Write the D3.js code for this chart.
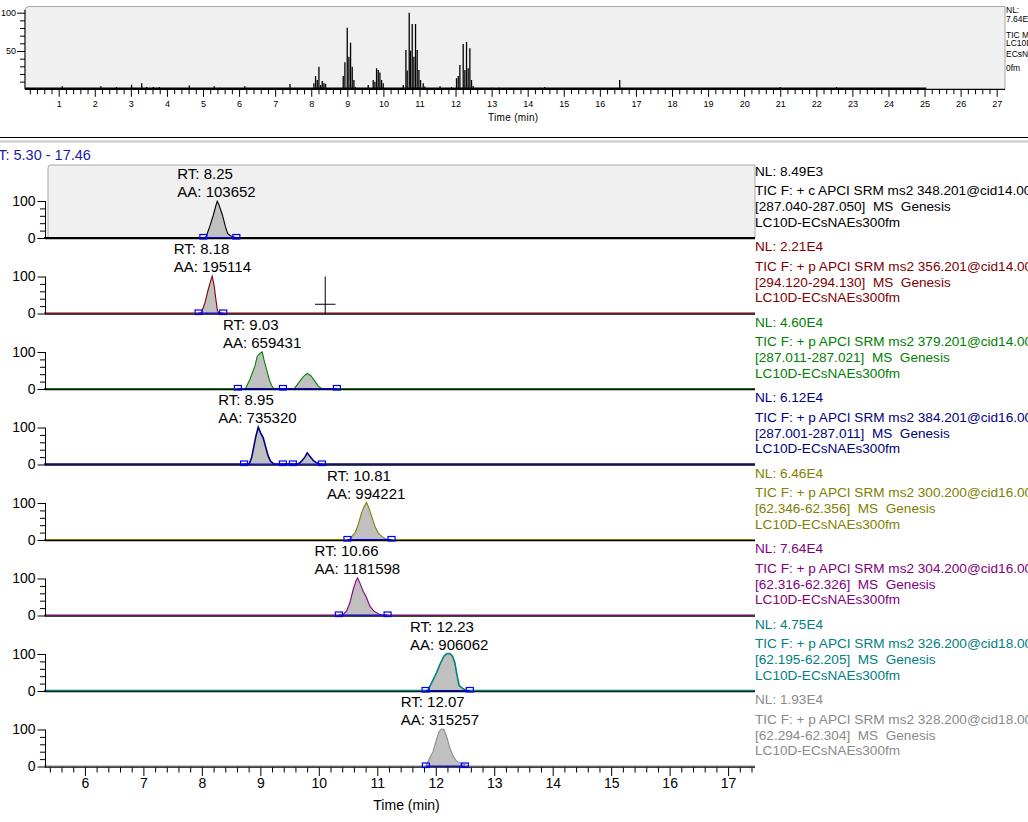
<!DOCTYPE html>
<html><head><meta charset="utf-8">
<script src="https://cdn.jsdelivr.net/npm/d3@7"></script>
<style>
body{margin:0;background:#fff;overflow:hidden}
svg{display:block;font-family:Arial,"Liberation Sans",sans-serif}
text{white-space:pre}
</style>
</head><body>
<svg id="c" width="1028" height="822"></svg>
<script>
// ---------- DATA ----------
// Top TIC overview (time in min, relative abundance %)
const ticSpikeTimes = [0.16,1.1,2.17,2.6,3.02,3.3,3.44,3.62,3.79,4.62,5.31,5.47,6.16,7.41,
  8.074,8.12,8.167,8.213,8.259,8.305,8.351,8.397,
  8.887,8.933,8.998,9.044,9.09,9.136,9.183,9.229,
  9.58,9.718,9.765,9.811,9.857,9.903,9.949,9.995,
  10.55,10.624,10.66,10.716,10.753,10.799,10.845,10.891,10.937,10.984,11.03,11.104,11.15,
  11.57,11.89,
  12.027,12.074,12.12,12.212,12.258,12.304,12.35,12.397,12.443,12.489,
  13.0,13.21,14.34,14.47,16.55,21.0,22.56];
const ticSpikeValues = [2,4,4,3,6,8,3,3,3,5,4,2,4,7,
  7.8,17.4,12.2,29.6,5.7,10.9,7.8,7,
  17.4,35.2,80.5,42.6,60.9,29.6,12.2,2.6,
  5.7,12.2,10,27.4,25.2,21.8,12.2,7.8,
  5.7,51.3,24.4,100,50.5,85.3,42.6,85.3,51.3,25.2,12.2,7.8,3.5,
  4,3,
  14.4,17.4,31.8,59.2,25.2,61.8,27.4,53.5,12.2,4.3,
  2,2,2,3,12,3,3];
const ticTraceRange = [0.07, 25.05];
const ticXTicks = [1,2,3,4,5,6,7,8,9,10,11,12,13,14,15,16,17,18,19,20,21,22,23,24,25,26,27];
const ticYTicks = [50,100];
const ticInfo = ["NL:","7.64E4","TIC MS","LC10D-","ECsNAEs30","0fm"];

// Main SRM chromatograms
const rtRange = [5.30, 17.46];
const mainXTicks = [6,7,8,9,10,11,12,13,14,15,16,17];
const panelYTicks = [0,100];
const panelColors = ["#000000","#800000","#008000","#000080","#808000","#800080","#008080","#8a8a8a"];
const peakRT = [8.25, 8.18, 9.03, 8.95, 10.81, 10.66, 12.23, 12.07];
const peakAA = [103652, 195114, 659431, 735320, 994221, 1181598, 906062, 315257];
const panelNL = ["8.49E3","2.21E4","4.60E4","6.12E4","6.46E4","7.64E4","4.75E4","1.93E4"];
const panelScan = [
  "TIC F: + c APCI SRM ms2 348.201@cid14.00",
  "TIC F: + p APCI SRM ms2 356.201@cid14.00",
  "TIC F: + p APCI SRM ms2 379.201@cid14.00",
  "TIC F: + p APCI SRM ms2 384.201@cid16.00",
  "TIC F: + p APCI SRM ms2 300.200@cid16.00",
  "TIC F: + p APCI SRM ms2 304.200@cid16.00",
  "TIC F: + p APCI SRM ms2 326.200@cid18.00",
  "TIC F: + p APCI SRM ms2 328.200@cid18.00"];
const panelMass = [
  "[287.040-287.050]  MS  Genesis",
  "[294.120-294.130]  MS  Genesis",
  "[287.011-287.021]  MS  Genesis",
  "[287.001-287.011]  MS  Genesis",
  "[62.346-62.356]  MS  Genesis",
  "[62.316-62.326]  MS  Genesis",
  "[62.195-62.205]  MS  Genesis",
  "[62.294-62.304]  MS  Genesis"];
const fileName = "LC10D-ECsNAEs300fm";

// Peak profiles per panel: [time, %]
const trace1 = [[[8.06,0],[8.080,5.4],[8.137,30.6],[8.194,59.5],[8.240,86.5],[8.263,98.2],[8.297,86.5],[8.354,59.5],[8.400,30.6],[8.440,10.8],[8.479,5.4],[8.536,1.8],[8.57,0]]];
const trace2 = [[[7.98,0],[7.995,2.3],[8.052,27.5],[8.109,63.5],[8.149,86],[8.177,99.5],[8.211,72.5],[8.240,36.5],[8.263,9.5],[8.280,2.3],[8.29,0]]];
const trace3 = [[[8.74,0],[8.753,1.8],[8.821,24.3],[8.907,60.4],[8.947,87.4],[8.992,94.6],[9.032,99.1],[9.061,78.4],[9.106,51.4],[9.152,24.3],[9.192,8.1],[9.232,0]],
                [[9.58,0],[9.591,1.8],[9.676,19.8],[9.745,33.3],[9.802,40.5],[9.859,35.1],[9.933,19.8],[9.990,6.3],[10.047,0]]];
const trace4 = [[[8.80,0],[8.810,0.5],[8.850,16.7],[8.890,48.2],[8.924,75.2],[8.964,99.5],[9.004,84.2],[9.049,70.7],[9.095,43.7],[9.135,21.2],[9.175,7.7],[9.232,0]],
                [[9.648,0],[9.705,7.7],[9.762,18.5],[9.802,30.2],[9.847,21.2],[9.904,9.5],[9.962,3.2],[10.018,0]]];
const trace5 = [[[10.52,0],[10.531,1.8],[10.617,18],[10.674,40.5],[10.731,72],[10.777,90],[10.817,100],[10.856,85.6],[10.902,63],[10.959,36],[11.016,18],[11.073,9],[11.130,2.7],[11.187,0]]];
const trace6 = [[[10.40,0],[10.417,1.4],[10.474,10.4],[10.531,32.9],[10.588,68.9],[10.634,91.4],[10.662,100],[10.702,86.9],[10.759,64.4],[10.817,46.4],[10.873,23.9],[10.942,10.4],[11.016,3.2],[11.073,0]]];
const trace7 = [[[11.86,0],[11.871,2.7],[11.928,20.7],[12.013,47.7],[12.070,70.3],[12.139,92.8],[12.184,99.1],[12.241,100],[12.287,92.8],[12.327,74.8],[12.367,38.7],[12.401,13.5],[12.469,4.5],[12.527,0]]];
const trace8 = [[[11.83,0],[11.842,4.1],[11.899,22.1],[11.956,40.1],[12.013,71.6],[12.059,94.1],[12.099,100],[12.139,98.6],[12.184,80.6],[12.241,49.1],[12.298,26.6],[12.355,13.1],[12.441,6.8],[12.527,2.3],[12.56,0]]];
const traces = [trace1,trace2,trace3,trace4,trace5,trace6,trace7,trace8];

// Integration boundary markers (min)
const markers = [[8.026,8.59],[7.944,8.365],[8.616,9.386,10.309],[8.722,9.386,9.557,10.053],
                 [10.49,11.244],[10.343,11.176],[11.826,12.583],[11.831,12.498]];
// Cursor cross in panel 2
const cursor = {panel:1, t:10.11, v:25, halfWidth:0.175};

// ---------- LAYOUT ----------
const svg = d3.select("#c");
const font = 'Arial,"Liberation Sans",sans-serif';

// ===== TOP TIC PANEL =====
const tx = d3.scaleLinear().domain([1,27]).range([58.7,996.7]);
const ty = d3.scaleLinear().domain([0,100]).range([89.3,12.7]);
const tLeft = 25, tRight = 1005, tTop = 6.5, tBase = 89.3;

svg.append("path")
  .attr("d", `M${tLeft},${tBase} V${tTop+4} Q${tLeft},${tTop} ${tLeft+4},${tTop} H${tRight} V${tBase}`)
  .attr("fill","#f0f0f0").attr("stroke","#a8a8a8").attr("stroke-width",1);

// baseline trace
svg.append("line")
  .attr("x1",tx(ticTraceRange[0])).attr("x2",tx(ticTraceRange[1]))
  .attr("y1",ty(0.9)).attr("y2",ty(0.9)).attr("stroke","#000").attr("stroke-width",2);

svg.append("g").selectAll("line").data(ticSpikeTimes).join("line")
  .attr("x1",d=>tx(d)).attr("x2",d=>tx(d))
  .attr("y1",ty(0)).attr("y2",(d,i)=>ty(ticSpikeValues[i]))
  .attr("stroke","#000").attr("stroke-width",1.3);

// x axis
const tMinor = d3.range(0.2, 27.11, 0.2).filter(v=>Math.abs(v-Math.round(v))>0.01);
const txAxisMinor = svg.append("g").attr("transform",`translate(0,${tBase})`)
  .call(d3.axisBottom(tx).tickValues(tMinor).tickSize(5).tickFormat(""));
const txAxisMajor = svg.append("g").attr("transform",`translate(0,${tBase})`)
  .call(d3.axisBottom(tx).tickValues(ticXTicks).tickSize(7.5).tickPadding(4));
[txAxisMinor, txAxisMajor].forEach(g=>{g.select(".domain").remove(); g.selectAll("line").attr("stroke","#000");});
txAxisMajor.selectAll("text").attr("font-size",9).attr("font-family",font).attr("fill","#000");
svg.append("line").attr("x1",tLeft).attr("x2",tRight).attr("y1",tBase).attr("y2",tBase)
  .attr("stroke","#000").attr("stroke-width",1.2);

// y axis
const tyMinor = [10,20,30,40,60,70,80,90];
const tyAxisMinor = svg.append("g").attr("transform",`translate(${tLeft},0)`)
  .call(d3.axisLeft(ty).tickValues(tyMinor).tickSize(5).tickFormat(""));
const tyAxisMajor = svg.append("g").attr("transform",`translate(${tLeft},0)`)
  .call(d3.axisLeft(ty).tickValues(ticYTicks).tickSize(8).tickPadding(1));
[tyAxisMinor, tyAxisMajor].forEach(g=>{g.select(".domain").remove(); g.selectAll("line").attr("stroke","#000");});
tyAxisMajor.selectAll("text").attr("font-size",9).attr("font-family",font).attr("fill","#000");
svg.append("line").attr("x1",tLeft).attr("x2",tLeft).attr("y1",ty(100)-3).attr("y2",tBase)
  .attr("stroke","#000");

svg.append("text").attr("x",tx(13.6)).attr("y",120.5).attr("text-anchor","middle")
  .attr("font-size",10).attr("letter-spacing",0.3).attr("font-family",font).text("Time (min)");

const ticInfoY = [13.3, 21.5, 37.5, 45.5, 57, 70.5];
svg.append("g").selectAll("text").data(ticInfo).join("text")
  .attr("x",1006).attr("y",(d,i)=>ticInfoY[i]).attr("font-size",8.5).attr("font-family",font)
  .text(d=>d);

// separator lines
svg.append("line").attr("x1",0).attr("x2",1028).attr("y1",137.5).attr("y2",137.5).attr("stroke","#000");
svg.append("line").attr("x1",0).attr("x2",1028).attr("y1",141.5).attr("y2",141.5).attr("stroke","#c8c8c8").attr("stroke-width",2);

svg.append("text").attr("x",-12).attr("y",160).attr("font-size",14.5).attr("font-family",font)
  .attr("fill","#1a1aa6").text("RT: " + rtRange[0].toFixed(2) + " - " + rtRange[1].toFixed(2));

// ===== MAIN PANELS =====
const x = d3.scaleLinear().domain(rtRange).range([44,755]);
const base0 = 238, step = 75.5, pH = 37;
const xLeft = 45, xRight = 755;

traces.forEach((segs, i) => {
  const b = base0 + step*i;
  const y = d3.scaleLinear().domain([0,100]).range([b, b-pH]);
  const g = svg.append("g");
  const col = panelColors[i];

  if (i === 0) {
    g.append("path")
      .attr("d", `M${xLeft+3},${b} V${b-pH-33} Q${xLeft+3},${b-pH-36} ${xLeft+6},${b-pH-36} H${xRight} V${b}`)
      .attr("fill","#f0f0f0").attr("stroke","#a8a8a8");
  }

  // filled peaks
  const area = d3.area().x(d=>x(d[0])).y0(y(0)).y1(d=>y(d[1]));
  segs.forEach(s => g.append("path").attr("d", area(s)).attr("fill","#c0c0c0"));

  // axis line (baseline)
  g.append("line").attr("x1",xLeft).attr("x2",xRight).attr("y1",b+0.5).attr("y2",b+0.5)
    .attr("stroke","#000").attr("stroke-width",1.4);

  // trace
  const full = [[rtRange[0],0]].concat(...segs).concat([[rtRange[1],0]]);
  const line = d3.line().x(d=>x(d[0])).y(d=>y(d[1])-0.5);
  g.append("path").attr("d", line(full)).attr("fill","none").attr("stroke",col)
    .attr("stroke-width", (i===3||i===6)?1.6:1.1);

  // integration markers
  const m = markers[i];
  g.append("line").attr("x1",x(m[0])).attr("x2",x(m[m.length-1])).attr("y1",b-0.5).attr("y2",b-0.5)
    .attr("stroke","#0000ff").attr("stroke-width",1);
  g.selectAll("rect.mk").data(m).join("rect").attr("class","mk")
    .attr("x",d=>x(d)-3.5).attr("y",b-3.5).attr("width",7).attr("height",4.5)
    .attr("fill","none").attr("stroke","#0000ff").attr("stroke-width",1.2);

  // y axis
  const yMinor = g.append("g").attr("transform",`translate(${xLeft},0)`)
    .call(d3.axisLeft(y).tickValues([20,40,60,80]).tickSize(5).tickFormat(""));
  const yMajor = g.append("g").attr("transform",`translate(${xLeft},0)`)
    .call(d3.axisLeft(y).tickValues(panelYTicks).tickSize(7.5).tickPadding(2));
  [yMinor,yMajor].forEach(a=>{a.select(".domain").remove(); a.selectAll("line").attr("stroke","#000");});
  yMajor.selectAll("text").attr("font-size",14).attr("font-family",font).attr("fill","#000");
  g.append("line").attr("x1",xLeft+0.5).attr("x2",xLeft+0.5).attr("y1",y(100)).attr("y2",b+1).attr("stroke","#000");

  // RT / AA labels
  const px = x(peakRT[i]);
  const aa = g.append("text").attr("y", b-41.5).attr("font-size",15).attr("font-family",font)
    .text("AA: " + peakAA[i]);
  const w = aa.node().getComputedTextLength();
  aa.attr("x", px - w/2);
  g.append("text").attr("x", px - w/2).attr("y", b-59.5).attr("font-size",15).attr("font-family",font)
    .text("RT: " + peakRT[i].toFixed(2));

  // legend text
  const lg = [ ["NL: " + panelNL[i], -62.5], [panelScan[i], -42.7], [panelMass[i], -27], [fileName, -11.3] ];
  g.selectAll("text.lg").data(lg).join("text").attr("class","lg")
    .attr("x",755).attr("y",d=>b+d[1]).attr("font-size",13.6).attr("font-family",font)
    .attr("fill",col).text(d=>d[0]);
});

// cursor cross
{
  const b = base0 + step*cursor.panel;
  const y = d3.scaleLinear().domain([0,100]).range([b, b-pH]);
  svg.append("line").attr("x1",x(cursor.t)).attr("x2",x(cursor.t)).attr("y1",y(100)).attr("y2",y(0))
    .attr("stroke","#000");
  svg.append("line").attr("x1",x(cursor.t-cursor.halfWidth)).attr("x2",x(cursor.t+cursor.halfWidth))
    .attr("y1",y(cursor.v)).attr("y2",y(cursor.v)).attr("stroke","#000");
}

// bottom x axis
const bBase = base0 + step*7;
const mMinor = d3.range(5.4, 17.41, 0.2).filter(v=>Math.abs(v-Math.round(v))>0.01);
const bxMinor = svg.append("g").attr("transform",`translate(0,${bBase+1})`)
  .call(d3.axisBottom(x).tickValues(mMinor).tickSize(5).tickFormat(""));
const bxMajor = svg.append("g").attr("transform",`translate(0,${bBase+1})`)
  .call(d3.axisBottom(x).tickValues(mainXTicks).tickSize(8.5).tickPadding(2));
[bxMinor,bxMajor].forEach(a=>{a.select(".domain").remove(); a.selectAll("line").attr("stroke","#000");});
bxMajor.selectAll("text").attr("font-size",14).attr("font-family",font).attr("fill","#000");
svg.append("text").attr("x",x(11.5)).attr("y",810).attr("text-anchor","middle")
  .attr("font-size",14).attr("font-family",font).text("Time (min)");
</script>
</body></html>
